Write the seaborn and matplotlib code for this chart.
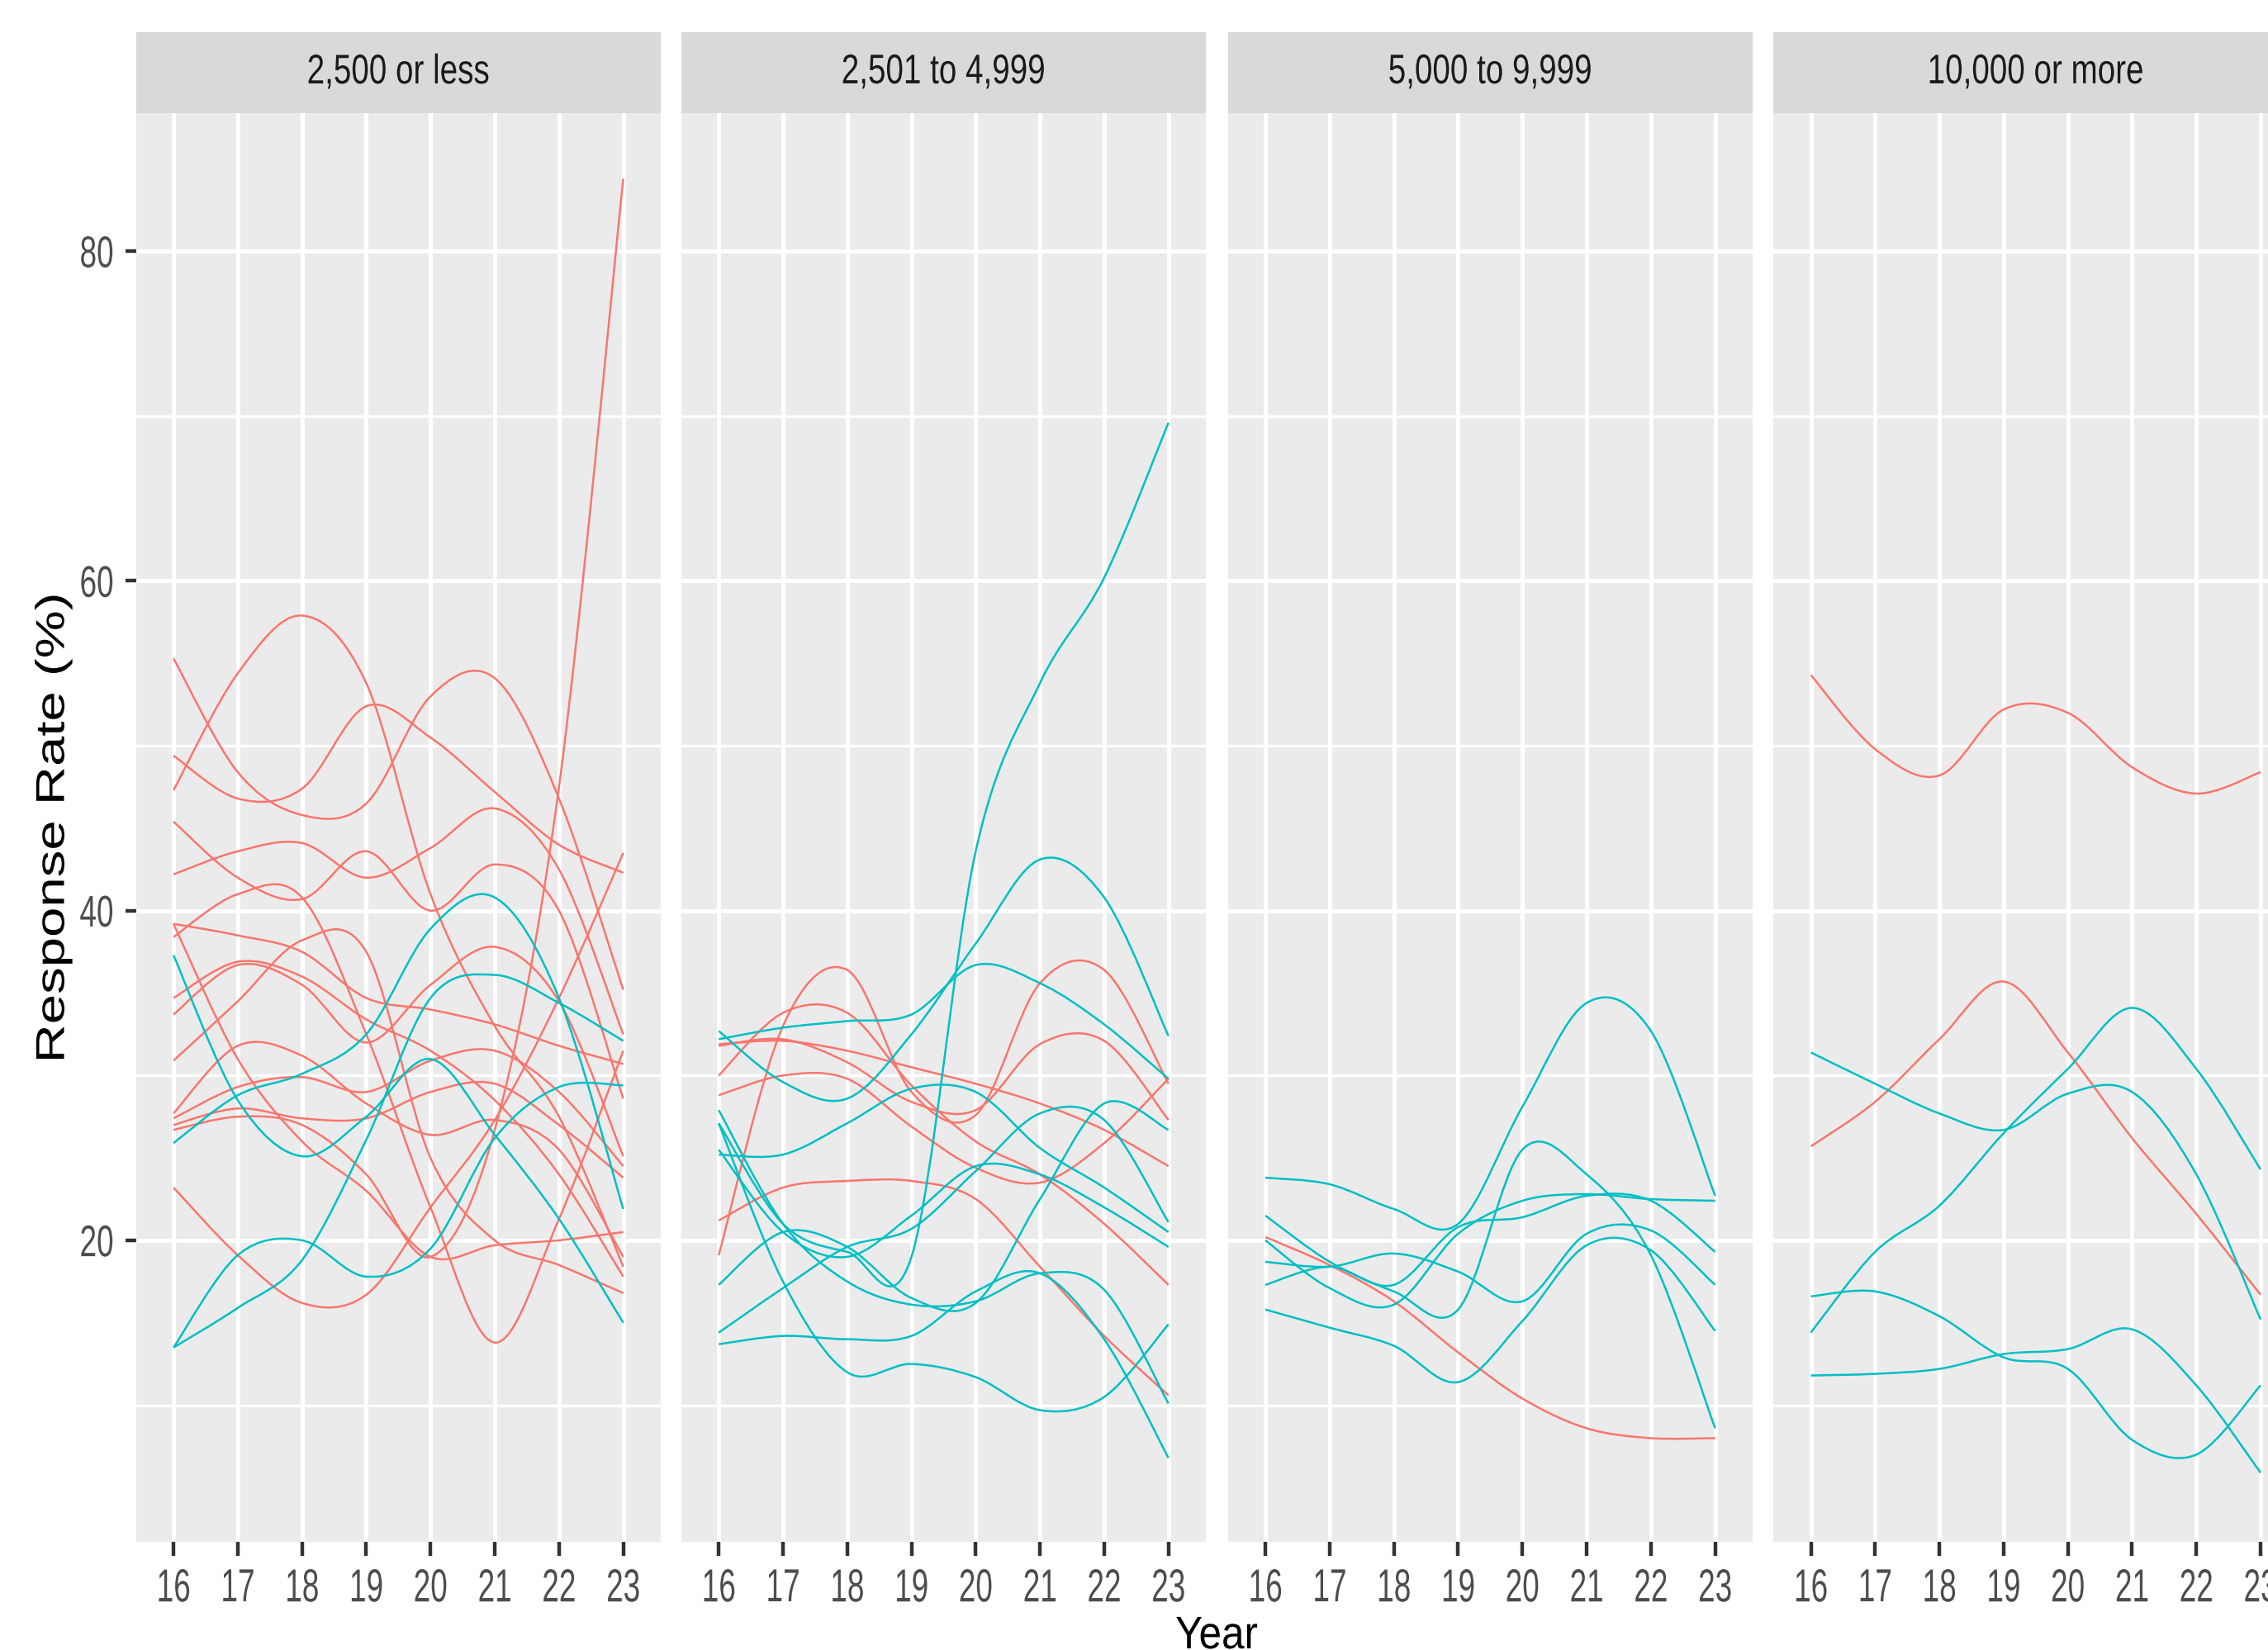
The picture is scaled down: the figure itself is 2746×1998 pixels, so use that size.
import numpy as np
import pandas as pd
import matplotlib
matplotlib.use("Agg")
import matplotlib.pyplot as plt
from matplotlib import patheffects
from matplotlib.path import Path
from matplotlib.patches import PathPatch, Rectangle
from matplotlib.transforms import Affine2D
import seaborn as sns

# ---- data (response rate %, one list per school, years 16..23)
years = [16, 17, 18, 19, 20, 21, 22, 23]
size_groups = ["2,500 or less", "2,501 to 4,999", "5,000 to 9,999", "10,000 or more"]
type_order = ["type_a", "type_b"]

small_red = [
    [55.3, 48.4, 45.8, 46.5, 53.0, 54.1, 46.8, 35.2],
    [49.4, 46.8, 47.4, 52.4, 50.5, 47.2, 44.0, 42.3],
    [47.3, 54.4, 57.9, 53.8, 41.0, 33.0, 27.5, 18.4],
    [45.4, 42.0, 40.7, 43.6, 40.0, 42.8, 40.0, 28.6],
    [42.2, 43.6, 44.1, 42.0, 43.8, 46.2, 42.5, 32.5],
    [39.2, 38.5, 37.5, 34.7, 34.0, 33.1, 31.8, 30.7],
    [38.4, 41.0, 40.8, 32.5, 22.0, 13.8, 21.3, 31.5],
    [39.2, 31.0, 26.0, 23.0, 19.0, 19.7, 20.0, 20.5],
    [34.7, 36.9, 36.0, 33.4, 31.5, 28.5, 24.0, 17.8],
    [33.7, 36.7, 35.5, 32.0, 35.5, 37.8, 34.5, 25.1],
    [30.9, 34.5, 38.2, 37.5, 25.0, 20.0, 18.5, 16.8],
    [27.7, 31.8, 31.2, 28.3, 26.4, 27.3, 25.5, 19.0],
    [27.4, 29.3, 29.9, 29.0, 30.9, 31.5, 29.0, 24.5],
    [27.0, 28.0, 27.4, 27.4, 29.0, 29.5, 27.0, 23.8],
    [23.2, 19.1, 16.2, 16.7, 22.0, 27.3, 34.7, 43.5],
    [26.7, 27.5, 27.0, 24.0, 19.0, 26.7, 47.5, 84.4],
]
small_teal = [
    [37.3, 28.5, 25.1, 27.5, 31.0, 26.4, 21.3, 15.0],
    [25.9, 28.8, 30.1, 32.5, 38.9, 40.8, 34.7, 21.9],
    [13.5, 19.1, 20.0, 17.8, 19.5, 26.2, 29.3, 29.4],
    [13.5, 15.9, 18.8, 26.1, 34.7, 36.1, 34.4, 32.1],
]

mid_red = [
    [31.9, 32.1, 31.5, 30.5, 29.5, 28.3, 26.7, 24.5],
    [31.8, 32.2, 30.8, 28.4, 27.9, 31.9, 32.1, 27.3],
    [28.8, 30.0, 29.8, 26.9, 24.4, 23.5, 25.9, 29.8],
    [21.2, 23.2, 23.6, 23.6, 22.5, 18.4, 14.2, 10.6],
    [19.1, 33.0, 36.4, 29.0, 27.6, 35.6, 36.4, 29.5],
    [30.0, 33.8, 33.8, 29.4, 26.0, 24.0, 21.0, 17.3],
]
mid_teal = [
    [27.1, 21.0, 19.3, 19.0, 43.6, 53.8, 60.2, 69.6],
    [32.2, 32.9, 33.3, 33.7, 36.7, 35.6, 33.1, 29.8],
    [32.7, 29.6, 28.6, 32.5, 38.0, 43.1, 40.8, 32.4],
    [25.2, 25.2, 27.1, 29.2, 29.0, 25.6, 23.2, 20.5],
    [27.9, 21.0, 17.5, 16.1, 16.3, 18.0, 17.0, 10.1],
    [27.1, 17.5, 12.0, 12.5, 11.7, 9.7, 10.5, 14.9],
    [14.4, 17.1, 19.6, 20.7, 24.2, 27.7, 27.3, 21.1],
    [13.7, 14.2, 14.0, 14.2, 16.9, 18.0, 14.0, 6.8],
    [17.3, 20.5, 19.6, 16.5, 16.2, 22.5, 28.3, 26.7],
    [25.5, 20.5, 19.0, 21.5, 24.5, 24.0, 22.0, 19.6],
]

large_red = [
    [20.2, 18.5, 16.3, 13.2, 10.4, 8.6, 8.0, 8.0],
]
large_teal = [
    [23.8, 23.4, 21.9, 21.0, 28.1, 34.4, 32.7, 22.7],
    [21.5, 18.7, 16.9, 15.8, 25.5, 24.0, 19.1, 8.6],
    [20.0, 17.1, 16.1, 20.4, 22.4, 22.8, 22.5, 22.4],
    [18.7, 18.4, 19.2, 18.1, 16.3, 20.4, 20.6, 17.3],
    [17.3, 18.4, 17.3, 20.8, 21.4, 22.7, 22.4, 19.3],
    [15.8, 14.7, 13.6, 11.4, 15.1, 19.7, 19.4, 14.5],
]

huge_red = [
    [54.3, 49.8, 48.2, 52.2, 52.0, 48.7, 47.1, 48.4],
    [25.7, 28.4, 32.2, 35.7, 31.4, 26.2, 21.6, 16.7],
]
huge_teal = [
    [31.4, 29.5, 27.7, 26.7, 28.9, 29.0, 24.0, 15.2],
    [14.4, 19.3, 22.1, 26.5, 30.4, 34.1, 30.4, 24.3],
    [16.6, 16.9, 15.4, 12.9, 12.2, 7.9, 7.0, 11.2],
    [11.8, 11.9, 12.2, 13.1, 13.4, 14.6, 11.2, 5.9],
]

RED = "#F8766D"
TEAL = "#00BFC4"

# long table for the facet grid
rows = []
groups = [(small_red, small_teal), (mid_red, mid_teal), (large_red, large_teal), (huge_red, huge_teal)]
sid = 0
for grp, (reds, teals) in zip(size_groups, groups):
    for kind, series in zip(type_order, (reds, teals)):
        for vals in series:
            sid += 1
            for yr, v in zip(years, vals):
                rows.append({"size": grp, "type": kind, "school": sid, "year": yr, "rate": v})
df = pd.DataFrame(rows)

sns.set_theme(style="darkgrid")
plt.rcParams["font.family"] = ["Liberation Sans", "DejaVu Sans"]


class Stretch(patheffects.AbstractPathEffect):
    # the reference image is stretched vertically, so its glyphs are too
    def __init__(self, sx=1.0, sy=1.0, ay="center"):
        super().__init__()
        self.sx, self.sy, self.ay = sx, sy, ay

    def draw_path(self, renderer, gc, tpath, affine, rgbFace=None):
        v = tpath.vertices
        x0 = (v[:, 0].min() + v[:, 0].max()) / 2
        y0 = {"top": v[:, 1].max(), "baseline": 0.0,
              "center": (v[:, 1].min() + v[:, 1].max()) / 2}[self.ay]
        t = Affine2D().translate(-x0, -y0).scale(self.sx, self.sy).translate(x0, y0)
        renderer.draw_path(gc, tpath, t + affine, rgbFace)


def smooth_path(x, y):
    # cubic Bezier through the yearly points (Catmull-Rom tangents)
    pts = np.column_stack([x, y]).astype(float)
    ext = np.vstack([pts[0], pts, pts[-1]])
    verts = [pts[0]]
    codes = [Path.MOVETO]
    for i in range(len(pts) - 1):
        p0, p1, p2, p3 = ext[i], ext[i + 1], ext[i + 2], ext[i + 3]
        verts += [p1 + (p2 - p0) / 6, p2 - (p3 - p1) / 6, p2]
        codes += [Path.CURVE4] * 3
    return Path(verts, codes)


def draw_curves(data, color, **kws):
    ax = plt.gca()
    for _, d in data.groupby("school"):
        d = d.sort_values("year")
        ax.add_patch(PathPatch(smooth_path(d["year"], d["rate"]), facecolor="none",
                               edgecolor=color, lw=0.9, zorder=2))


g = sns.FacetGrid(df, col="size", col_order=size_groups, hue="type", hue_order=type_order,
                  palette=[RED, TEAL], sharex=True, sharey=True, height=5, aspect=0.7, despine=False)
g.map_dataframe(draw_curves)
g.set(xlim=(15.415, 23.585), ylim=(1.73, 88.4))
g.set_axis_labels("", "")
g.set_titles("")

fig = g.figure
fig.set_size_inches(13.73, 9.99)
lefts = [164.6, 824.7, 1486.6, 2147.0]
pw = 635.5
bottom = 131.4 / 1998
height = (1866.6 - 136.6) / 1998
strip_h = 98.0 / (1866.6 - 136.6)

tick_fx = Stretch(sy=1.52, ay="top")
ytick_fx = Stretch(sy=1.45, ay="center")

for i, ax in enumerate(g.axes.flat):
    ax.set_position([lefts[i] / 2746, bottom, pw / 2746, height])
    ax.set_title("")
    ax.set_facecolor("#EBEBEB")
    for s in ax.spines.values():
        s.set_visible(False)
    ax.set_xticks(years)
    ax.set_xticklabels([str(y) for y in years])
    ax.set_yticks([20, 40, 60, 80])
    ax.set_yticks([10, 30, 50, 70], minor=True)
    ax.grid(which="major", color="white", lw=1.8)
    ax.grid(which="minor", axis="y", color="white", lw=1.2)
    ax.set_axisbelow(True)
    ax.tick_params(axis="x", which="major", length=6, width=1.6, color="#333333",
                   labelsize=13.3, labelcolor="#4D4D4D", pad=5.6, bottom=True)
    ax.tick_params(axis="y", which="major", length=4.7, width=1.6, color="#333333",
                   labelsize=13.3, labelcolor="#4D4D4D", pad=5, left=(i == 0))
    ax.tick_params(which="minor", length=0)
    if i > 0:
        ax.tick_params(axis="y", labelleft=False, left=False)
    for lbl in ax.get_xticklabels():
        lbl.set_path_effects([tick_fx])
    for lbl in ax.get_yticklabels():
        lbl.set_path_effects([ytick_fx])
    ax.add_patch(Rectangle((0, 1), 1, strip_h, transform=ax.transAxes, facecolor="#D9D9D9",
                           edgecolor="none", clip_on=False, zorder=3))
    ax.text(0.5, 1 + strip_h / 2, size_groups[i], transform=ax.transAxes, ha="center",
            va="center", fontsize=13.9, color="#1A1A1A", zorder=4,
            path_effects=[Stretch(sy=1.3, ay="center")])

fig.text(1473 / 2746, 0.001, "Year", ha="center", va="baseline", fontsize=17.8, color="black",
         path_effects=[Stretch(sy=1.12, ay="baseline")])
fig.text(65 / 2746, 0.498, "Response Rate (%)", rotation=90, ha="center", va="center",
         fontsize=17.6, color="black", path_effects=[Stretch(sx=1.336, ay="center")])

fig.savefig("out.png", dpi=200, facecolor="white")
